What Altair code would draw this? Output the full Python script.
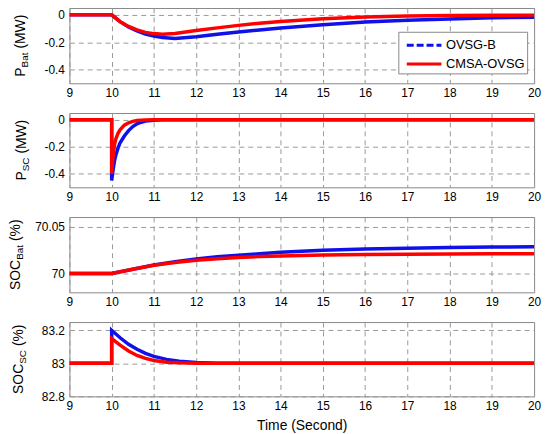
import altair as alt
import pandas as pd

SERIES = ["OVSG-B", "CMSA-OVSG"]
COLORS = ["#1010e8", "#ff0000"]
DASHES = [[7, 3], [1, 0]]
X_TICKS = list(range(9, 21))
X_TITLE = "Time (Second)"

# ---- Panel 1: P_Bat (MW)
pbat_t = [9, 10, 10.2, 10.4, 10.6, 10.8, 11.0, 11.2, 11.5, 12, 12.5, 13, 13.5, 14, 15, 16, 17, 18, 19, 20]
pbat_blue = [0, 0, -0.05, -0.088, -0.118, -0.14, -0.155, -0.166, -0.172, -0.16, -0.142, -0.126, -0.11, -0.096,
             -0.072, -0.053, -0.04, -0.03, -0.022, -0.017]
pbat_red = [0, 0, -0.05, -0.085, -0.11, -0.128, -0.137, -0.141, -0.136, -0.115, -0.095, -0.077, -0.061, -0.048,
            -0.029, -0.016, -0.009, -0.005, -0.003, -0.002]

# ---- Panel 2: P_SC (MW)
psc_t_blue = [9, 10, 10, 10.03, 10.07, 10.1, 10.15, 10.2, 10.3, 10.4, 10.5, 10.6, 10.7, 10.8, 11, 11.2, 20]
psc_blue = [0, 0, -0.45, -0.38, -0.30, -0.26, -0.21, -0.17, -0.12, -0.08, -0.05, -0.03, -0.018, -0.01, -0.003, 0, 0]
psc_t_red = [9, 10, 10, 10.03, 10.07, 10.1, 10.15, 10.2, 10.3, 10.4, 10.5, 10.6, 10.8, 11, 20]
psc_red = [0, 0, -0.40, -0.28, -0.18, -0.14, -0.10, -0.075, -0.04, -0.022, -0.012, -0.006, -0.002, 0, 0]

# ---- Panel 3: SOC_Bat (%)
socb_t = [9, 10, 10.5, 11, 11.5, 12, 12.5, 13, 13.5, 14, 15, 16, 17, 18, 19, 20]
socb_blue = [70, 70, 70.0045, 70.009, 70.0125, 70.0155, 70.0178, 70.0195, 70.021, 70.0225, 70.0247, 70.026,
             70.0268, 70.0276, 70.0281, 70.0285]
socb_red = [70, 70, 70.0045, 70.0088, 70.0118, 70.014, 70.0157, 70.017, 70.018, 70.0187, 70.0196, 70.0201,
            70.0204, 70.0207, 70.0209, 70.021]

# ---- Panel 4: SOC_SC (%)
socs_t_blue = [9, 10, 10, 10.2, 10.4, 10.6, 10.8, 11, 11.3, 11.6, 12, 12.5, 13, 20]
socs_blue = [83, 83, 83.2, 83.155, 83.115, 83.085, 83.06, 83.042, 83.024, 83.013, 83.005, 83.001, 83, 83]
socs_t_red = [9, 10, 10, 10.2, 10.4, 10.6, 10.8, 11, 11.3, 11.6, 12, 13, 20]
socs_red = [83, 83, 83.15, 83.11, 83.075, 83.048, 83.03, 83.017, 83.007, 83.003, 83.001, 83, 83]

# y-axis titles (main text, subscript, unit)
Y_MAIN = ["P", "P", "SOC", "SOC"]
Y_SUB = ["Bat", "SC", "Bat", "SC"]
Y_UNIT = ["(MW)", "(MW)", "(%)", "(%)"]
Y_DOMAINS = [[-0.5, 0.05], [-0.5, 0.05], [69.98, 70.06], [82.8, 83.25]]
Y_TICKS = [[-0.4, -0.2, 0], [-0.4, -0.2, 0], [70, 70.05], [82.8, 83, 83.2]]

FONT = "Liberation Sans"
W = 469
HEIGHTS = [76, 75, 76, 75]
TITLE_X = [-49, -48, -54, -51]

LEG = dict(orient="none", legendX=332, legendY=24, title=None, fillColor="white",
           strokeColor="#888", padding=2, labelFontSize=13, labelFont=FONT, labelColor="black",
           symbolType="M-0.5,0H3", symbolStrokeWidth=3, symbolSize=400, symbolOpacity=1,
           labelOffset=23, rowPadding=0)


def long_frame(t_blue, blue, t_red, red):
    rows = []
    for name, ts, vals in ((SERIES[0], t_blue, blue), (SERIES[1], t_red, red)):
        for i, (tt, v) in enumerate(zip(ts, vals)):
            rows.append({"t": tt, "v": v, "s": name, "i": i})
    return pd.DataFrame(rows)


def text_width(s, size):
    w = {"P": 0.667, "S": 0.667, "O": 0.778, "C": 0.722, "B": 0.667, "a": 0.556, "t": 0.278,
         "(": 0.333, ")": 0.333, "M": 0.833, "W": 0.944, "%": 0.889}
    return sum(w.get(c, 0.556) for c in s) * size


def panel(k, df, last=False, legend=False):
    h = HEIGHTS[k]
    x = alt.X("t:Q", scale=alt.Scale(domain=[9, 20], nice=False, zero=False),
              axis=alt.Axis(values=X_TICKS, title=X_TITLE if last else None, labelFlush=False,
                            labelOverlap=False, labelBound=False, titlePadding=7))
    y = alt.Y("v:Q", scale=alt.Scale(domain=Y_DOMAINS[k], nice=False, zero=False),
              axis=alt.Axis(values=Y_TICKS[k], title=None, labelExpr="'' + datum.value"))
    cscale = alt.Scale(domain=SERIES, range=COLORS)
    dscale = alt.Scale(domain=SERIES, range=DASHES)
    clegend = alt.Legend(**LEG) if legend else None
    layers = []
    for name in SERIES:
        layers.append(
            alt.Chart(df).transform_filter(alt.datum.s == name)
            .mark_line(strokeWidth=3.5, clip=True)
            .encode(x=x, y=y, color=alt.Color("s:N", scale=cscale, legend=clegend), order="i:Q")
        )
    if legend:
        layers.append(
            alt.Chart(df).mark_line(opacity=0).encode(
                x=x, y=y,
                color=alt.Color("s:N", scale=cscale, legend=alt.Legend(**LEG)),
                strokeDash=alt.StrokeDash("s:N", scale=dscale, legend=alt.Legend(**LEG)),
            )
        )
    # y title pieces
    main, sub, unit = Y_MAIN[k], Y_SUB[k], Y_UNIT[k]
    wm, ws, wu = text_width(main, 14), text_width(sub, 10), text_width(unit, 14)
    total = wm + ws + 4 + wu
    y0 = h / 2 + total / 2
    tx = TITLE_X[k]
    pieces = [(main, 14, tx, y0), (sub, 10, tx + 4, y0 - wm), (unit, 14, tx, y0 - wm - ws - 4)]
    for txt, size, px, py in pieces:
        layers.append(
            alt.Chart(pd.DataFrame({"label": [txt]}))
            .mark_text(angle=270, align="left", baseline="middle", font=FONT, fontSize=size, color="black")
            .encode(text="label:N", x=alt.value(px), y=alt.value(py))
        )
    return alt.layer(*layers).properties(width=W, height=h)


df1 = long_frame(pbat_t, pbat_blue, pbat_t, pbat_red)
df2 = long_frame(psc_t_blue, psc_blue, psc_t_red, psc_red)
df3 = long_frame(socb_t, socb_blue, socb_t, socb_red)
df4 = long_frame(socs_t_blue, socs_blue, socs_t_red, socs_red)

chart = alt.vconcat(
    panel(0, df1, legend=True),
    panel(1, df2),
    panel(2, df3),
    panel(3, df4, last=True),
    spacing=13,
).resolve_scale(color="independent", strokeDash="independent").properties(
    padding={"left": 0, "top": -3, "right": 0, "bottom": 0}, background="white"
).configure_axis(
    grid=True, gridColor="#999", gridDash=[5, 4], gridWidth=1, domain=False, ticks=False,
    labelFont=FONT, labelFontSize=12, labelColor="black",
    titleFont=FONT, titleFontSize=14, titleFontWeight="normal", titleColor="black",
).configure_axisX(labelPadding=4).configure_axisY(labelPadding=5).configure_view(
    stroke="#888"
)

chart.save("out.html", embed_options={"renderer": "svg", "actions": False})
